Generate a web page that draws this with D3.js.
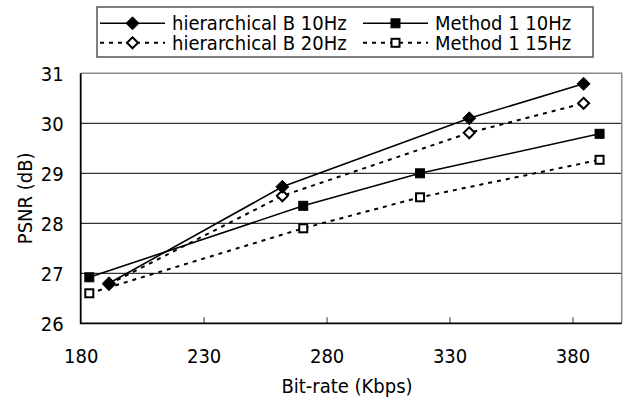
<!DOCTYPE html>
<html>
<head>
<meta charset="utf-8">
<script src="https://cdn.jsdelivr.net/npm/d3@7"></script>
<style>
  html, body { margin: 0; padding: 0; background: #fff; }
  svg text { font-family: "DejaVu Sans Condensed", "DejaVu Sans", sans-serif; font-stretch: condensed; fill: #000; }
</style>
</head>
<body>
<svg id="chart" width="627" height="401"></svg>
<script>
// ---- data ----
const hierB10Rate = [191.5, 262, 338, 384.5];
const hierB10Psnr = [26.8, 28.73, 30.1, 30.79];
const hierB20Rate = [191.5, 262, 338, 384.5];
const hierB20Psnr = [26.78, 28.55, 29.81, 30.4];
const method10Rate = [183.5, 270.5, 318, 391];
const method10Psnr = [26.92, 28.35, 29.0, 29.79];
const method15Rate = [183.5, 270.5, 318, 391];
const method15Psnr = [26.6, 27.9, 28.52, 29.27];
const xTicks = [180, 230, 280, 330, 380];
const yTicks = [26, 27, 28, 29, 30, 31];
const seriesNames = ["hierarchical B 10Hz", "hierarchical B 20Hz", "Method 1 10Hz", "Method 1 15Hz"];

const series = [
  { name: seriesNames[0], xs: hierB10Rate, ys: hierB10Psnr, dash: null, marker: "diamond", filled: true },
  { name: seriesNames[1], xs: hierB20Rate, ys: hierB20Psnr, dash: "4,5", marker: "diamond", filled: false },
  { name: seriesNames[2], xs: method10Rate, ys: method10Psnr, dash: null, marker: "square", filled: true },
  { name: seriesNames[3], xs: method15Rate, ys: method15Psnr, dash: "4,5", marker: "square", filled: false }
];

const svg = d3.select("#chart");
const pL = 80.7, pR = 621.7, pT = 73.3, pB = 323.3;
const x = d3.scaleLinear().domain([180, 400]).range([pL, pR]);
const y = d3.scaleLinear().domain([26, 31]).range([pB, pT]);

// gridlines
svg.append("g").selectAll("line").data(yTicks.filter(d => d > 26 && d < 31)).join("line")
  .attr("x1", pL).attr("x2", pR).attr("y1", d => y(d)).attr("y2", d => y(d))
  .attr("stroke", "#000").attr("stroke-width", 1);
// top & right border (gray)
svg.append("path")
  .attr("d", `M${pL},${y(31)}H${pR}V${pB}`)
  .attr("fill", "none").attr("stroke", "#8c8c8c").attr("stroke-width", 1.5);

// x axis
const xAxis = d3.axisBottom(x).tickValues(xTicks).tickSize(-6).tickPadding(0).tickFormat(d3.format("d"));
const gx = svg.append("g").attr("transform", `translate(0,${pB})`).call(xAxis);
gx.select(".domain").remove();
gx.selectAll(".tick line").attr("stroke", "#555").attr("stroke-width", 1.2);
gx.selectAll(".tick text").attr("font-size", 20).attr("dy", null).attr("y", 40);
gx.selectAll(".tick").filter(d => d === 180).select("line").remove();

// y axis labels
const yAxis = d3.axisLeft(y).tickValues(yTicks).tickSize(0).tickPadding(17).tickFormat(d3.format("d"));
const gy = svg.append("g").attr("transform", `translate(${pL},0)`).call(yAxis);
gy.select(".domain").remove();
gy.selectAll(".tick text").attr("font-size", 20).attr("dy", "0.36em");

// axis lines
svg.append("path").attr("d", `M${pL},${pT}V${pB}H${pR}`)
  .attr("fill", "none").attr("stroke", "#000").attr("stroke-width", 1.8);

// titles
svg.append("text").attr("x", 347).attr("y", 393).attr("text-anchor", "middle")
  .attr("font-size", 20).text("Bit-rate (Kbps)");
svg.append("text").attr("transform", `translate(32,${(pT + pB) / 2}) rotate(-90)`)
  .attr("text-anchor", "middle").attr("font-size", 20).text("PSNR (dB)");

// markers
function drawMarker(g, type, filled, cx, cy) {
  if (type === "diamond") {
    const r = filled ? 6.5 : 5.5;
    g.append("path").attr("d", `M${cx},${cy - r}L${cx + r},${cy}L${cx},${cy + r}L${cx - r},${cy}Z`)
      .attr("fill", filled ? "#000" : "#fff").attr("stroke", "#000").attr("stroke-width", filled ? 1 : 2);
  } else {
    const s = filled ? 9 : 8;
    g.append("rect").attr("x", cx - s / 2).attr("y", cy - s / 2).attr("width", s).attr("height", s)
      .attr("fill", filled ? "#000" : "#fff").attr("stroke", "#000").attr("stroke-width", filled ? 1 : 2);
  }
}

const line = d3.line().x(d => x(d[0])).y(d => y(d[1]));
const order = [3, 2, 1, 0];
order.forEach(i => {
  const s = series[i];
  const pts = s.xs.map((v, k) => [v, s.ys[k]]);
  const g = svg.append("g");
  g.append("path").attr("d", line(pts)).attr("fill", "none").attr("stroke", "#000")
    .attr("stroke-width", s.dash ? 2 : 1.6).attr("stroke-dasharray", s.dash);
  pts.forEach(p => drawMarker(g, s.marker, s.filled, x(p[0]), y(p[1])));
});

// legend
const lg = svg.append("g");
lg.append("rect").attr("x", 97).attr("y", 7).attr("width", 496).attr("height", 50)
  .attr("fill", "#fff").attr("stroke", "#555").attr("stroke-width", 1.5);
const legendPos = [
  { x1: 100, x2: 165, tx: 172, row: 0 },
  { x1: 100, x2: 165, tx: 172, row: 1 },
  { x1: 363, x2: 428, tx: 435, row: 0 },
  { x1: 363, x2: 428, tx: 435, row: 1 }
];
series.forEach((s, i) => {
  const p = legendPos[i];
  const cy = 23.3 + p.row * 19.5;
  lg.append("line").attr("x1", p.x1).attr("x2", p.x2).attr("y1", cy).attr("y2", cy)
    .attr("stroke", "#000").attr("stroke-width", s.dash ? 2 : 1.6).attr("stroke-dasharray", s.dash);
  drawMarker(lg, s.marker, s.filled, (p.x1 + p.x2) / 2, cy);
  lg.append("text").attr("x", p.tx).attr("y", cy + 7).attr("font-size", 20).text(s.name);
});
</script>
</body>
</html>
